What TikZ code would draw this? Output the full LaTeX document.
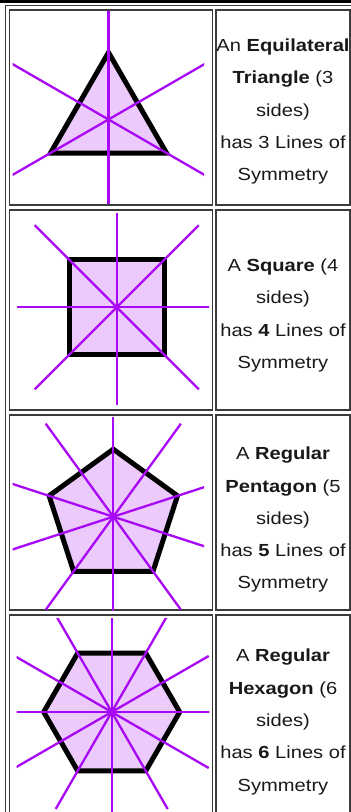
\documentclass[tikz,border=0pt]{standalone}
\usepackage{fontspec}
\newfontfamily\cellfont[FakeStretch=1.15]{Liberation Sans}
\definecolor{symviolet}{RGB}{168, 8, 245}
\definecolor{shapelilac}{RGB}{236, 202, 252}
\definecolor{borderdark}{RGB}{60, 60, 60}
\usetikzlibrary{calc}
\tikzset{
    cellbox/.style={draw=borderdark, line width=1.4pt},
    tableline/.style={draw=borderdark, line width=1.2pt},
    polyshape/.style={fill=shapelilac, draw=black, line width=5pt, line join=miter},
    symline/.style={draw=symviolet, line width=2.3pt},
    celltext/.style={font=\cellfont\fontsize{17.5}{32.3}\selectfont, align=center, text=black!90, inner sep=0pt},
}

\begin{document}
\begin{tikzpicture}[x=1pt, y=-1pt]
    \clip (0,0) rectangle (351,812);
    \fill[white] (0,0) rectangle (351,812);

    % Table frame
    \fill[black] (0,0) rectangle (351,2.5);
    \draw[tableline] (5.5,820) |- (360,5.5);

    % Cells
    \draw[cellbox] (9.5,10) rectangle (212.5,205);
    \draw[cellbox] (216,10) rectangle (350,205);
    \draw[cellbox] (9.5,210) rectangle (212.5,410);
    \draw[cellbox] (216,210) rectangle (350,410);
    \draw[cellbox] (9.5,415) rectangle (212.5,610);
    \draw[cellbox] (216,415) rectangle (350,610);
    \draw[cellbox] (9.5,615) rectangle (212.5,830);
    \draw[cellbox] (216,615) rectangle (350,830);

    % Triangle
    \coordinate (tricentre) at (108.5,119.5);
    \draw[polyshape] (108.5,52.5) -- (166.5,153) -- (50.5,153) -- cycle;
    \begin{scope}
        \clip (12.7,11) rectangle (204,203);
        \foreach \a in {30,90,...,330}
            \draw[symline] (tricentre) -- ++(\a:112);
    \end{scope}
    \node[celltext] (tritext) at (283,111.5)
        {An \textbf{Equilateral}\\\textbf{Triangle} (3\\sides)\\has 3 Lines of\\Symmetry};

    % Square
    \coordinate (sqcentre) at (116.7,307.3);
    \draw[polyshape] (69.2,259.8) rectangle (164.2,354.8);
    \begin{scope}
        \clip (17,213) rectangle (209,404);
        \foreach \a in {0,45,...,315}
            \draw[symline] (sqcentre) -- ++(\a:116);
    \end{scope}
    \node[celltext] (sqtext) at (283,315.5)
        {A \textbf{Square} (4\\sides)\\has \textbf{4} Lines of\\Symmetry};

    % Pentagon
    \coordinate (pentcentre) at (113.3,516.7);
    \draw[polyshape] (113.3,449.2) -- (177.5,495.8) -- (153,571.3)
        -- (73.6,571.3) -- (49.1,495.8) -- cycle;
    \begin{scope}
        \clip (12.7,417) rectangle (204,610);
        \foreach \a in {18,54,...,342}
            \draw[symline] (pentcentre) -- ++(\a:115);
    \end{scope}
    \node[celltext] (penttext) at (283,519.8)
        {A \textbf{Regular}\\\textbf{Pentagon} (5\\sides)\\has \textbf{5} Lines of\\Symmetry};

    % Hexagon
    \coordinate (hexcentre) at (111.7,712);
    \draw[polyshape] (179.7,712) -- (145.7,653.1) -- (77.7,653.1)
        -- (43.7,712) -- (77.7,770.9) -- (145.7,770.9) -- cycle;
    \begin{scope}
        \clip (16.7,618) rectangle (209.3,812);
        \foreach \a in {0,30,...,330}
            \draw[symline] (hexcentre) -- ++(\a:112);
    \end{scope}
    \node[celltext] (hextext) at (283,722)
        {A \textbf{Regular}\\\textbf{Hexagon} (6\\sides)\\has \textbf{6} Lines of\\Symmetry};
\end{tikzpicture}
\end{document}
